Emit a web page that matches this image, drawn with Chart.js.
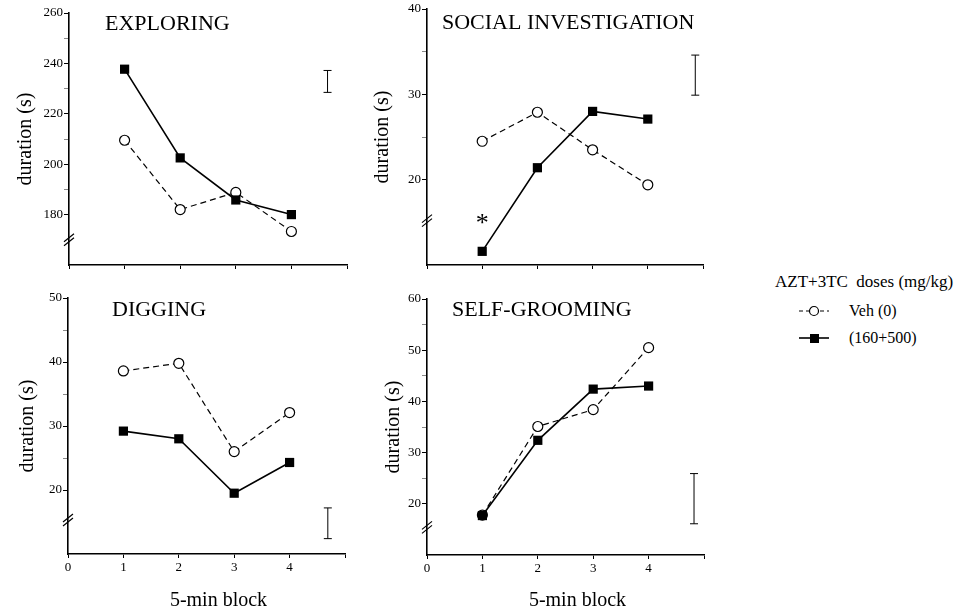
<!DOCTYPE html>
<html>
<head>
<meta charset="utf-8">
<script src="https://cdn.jsdelivr.net/npm/chart.js@4.4.0/dist/chart.umd.min.js"></script>
<style>
  body { margin: 0; background: #fff; }
  #wrap { position: relative; width: 967px; height: 615px; font-family: "Liberation Serif", serif; color: #000; }
  .panel { position: absolute; }
  #legend { position: absolute; left: 775px; top: 272px; font-size: 17px; white-space: nowrap; }
  .row { position: absolute; left: 24px; height: 20px; line-height: 20px; font-size: 16px; }
  .row svg { position: absolute; left: 0; top: 4px; }
  .row span { position: absolute; left: 50px; }
</style>
</head>
<body>
<div id="wrap">
  <canvas id="c1" class="panel" width="360" height="280" style="left:0;top:0"></canvas>
  <canvas id="c2" class="panel" width="360" height="280" style="left:360px;top:0"></canvas>
  <canvas id="c3" class="panel" width="360" height="335" style="left:0;top:280px"></canvas>
  <canvas id="c4" class="panel" width="360" height="335" style="left:360px;top:280px"></canvas>
  <div id="legend">
    <div>AZT+3TC&nbsp;&nbsp;doses (mg/kg)</div>
    <div class="row" style="top:29px">
      <svg width="30" height="12"><line x1="0" y1="6" x2="30" y2="6" stroke="#000" stroke-width="1.2" stroke-dasharray="4,3"/><circle cx="15" cy="6" r="4.5" fill="#fff" stroke="#000" stroke-width="1.2"/></svg>
      <span>Veh (0)</span>
    </div>
    <div class="row" style="top:56px">
      <svg width="30" height="12"><line x1="0" y1="6" x2="30" y2="6" stroke="#000" stroke-width="1.6"/><rect x="11" y="2" width="9" height="9" fill="#000"/></svg>
      <span>(160+500)</span>
    </div>
  </div>
</div>
<script>
// 5-min blocks
const blocks = [1, 2, 3, 4];
const xTickLabels = ["0", "1", "2", "3", "4"];

// duration (s) per block
const exploringVeh = [209.5, 182, 188.8, 173.3];
const exploringDrug = [237.7, 202.5, 185.8, 180];
const socialVeh = [24.5, 27.9, 23.5, 19.4];
const socialDrug = [11.6, 21.4, 28.0, 27.1];
const diggingVeh = [38.6, 39.8, 26.0, 32.1];
const diggingDrug = [29.2, 28.0, 19.5, 24.3];
const groomingVeh = [17.8, 35.1, 38.4, 50.5];
const groomingDrug = [17.7, 32.4, 42.4, 43.0];

// error bar: [x, low, high]
const exploringError = [4.65, 228.5, 237.2];
const socialError = [4.86, 29.9, 34.6];
const diggingError = [4.69, 12.4, 17.2];
const groomingError = [4.82, 16.1, 25.9];

// labelled y ticks
const exploringTicks = [180, 200, 220, 240, 260];
const socialTicks = [20, 30, 40];
const diggingTicks = [20, 30, 40, 50];
const groomingTicks = [20, 30, 40, 50, 60];

const FONT = "'Liberation Serif', 'Times New Roman', serif";

function pts(ys) {
  return blocks.map((b, i) => ({ x: b, y: ys[i] }));
}

const decor = {
  id: 'decor',
  afterDatasetsDraw(chart, args, o) {
    const { ctx } = chart;
    const xs = chart.scales.x, ys = chart.scales.y;
    ctx.save();
    ctx.fillStyle = '#000';
    ctx.strokeStyle = '#000';

    // panel title
    ctx.font = '22px ' + FONT;
    ctx.textBaseline = 'middle';
    ctx.textAlign = 'left';
    ctx.fillText(o.title, o.titleX, o.titleY);

    // axis break marks
    const bx = chart.chartArea.left, by = ys.getPixelForValue(o.breakAt);
    ctx.lineWidth = 1.2;
    ctx.beginPath();
    for (const d of [-2, 2]) {
      ctx.moveTo(bx - 5, by + d + 4);
      ctx.lineTo(bx + 5, by + d - 4);
    }
    ctx.stroke();

    // error bar
    const ex = xs.getPixelForValue(o.err[0]);
    const e1 = ys.getPixelForValue(o.err[1]), e2 = ys.getPixelForValue(o.err[2]);
    ctx.lineWidth = 1;
    ctx.beginPath();
    ctx.moveTo(ex, e1); ctx.lineTo(ex, e2);
    ctx.moveTo(ex - 4, e1); ctx.lineTo(ex + 4, e1);
    ctx.moveTo(ex - 4, e2); ctx.lineTo(ex + 4, e2);
    ctx.stroke();

    // significance mark
    if (o.star) {
      ctx.font = '26px ' + FONT;
      ctx.textAlign = 'center';
      ctx.textBaseline = 'alphabetic';
      ctx.fillText('*', xs.getPixelForValue(o.star[0]), ys.getPixelForValue(o.star[1]) + 12);
    }

    // x axis title
    if (o.xTitle) {
      ctx.font = '20px ' + FONT;
      ctx.textAlign = 'center';
      ctx.textBaseline = 'middle';
      ctx.fillText('5-min block', (chart.chartArea.left + chart.chartArea.right) / 2 + 12, o.xTitleY);
    }
    ctx.restore();
  }
};

function makePanel(id, cfg) {
  const major = new Set(cfg.ticks);
  const first = cfg.ticks[0];
  return new Chart(document.getElementById(id), {
    type: 'line',
    data: {
      datasets: [
        {
          label: '(160+500)',
          data: pts(cfg.drug),
          borderColor: '#000',
          borderWidth: 1.6,
          pointStyle: 'rect',
          pointRadius: 6.5,
          pointBackgroundColor: '#000',
          pointBorderColor: '#000',
          pointBorderWidth: 0,
          tension: 0,
          order: 0
        },
        {
          label: 'Veh (0)',
          data: pts(cfg.veh),
          borderColor: '#000',
          borderWidth: 1.2,
          borderDash: [6, 4],
          pointStyle: 'circle',
          pointRadius: 5,
          pointBackgroundColor: '#fff',
          pointBorderColor: '#000',
          pointBorderWidth: 1.2,
          tension: 0,
          order: 1
        }
      ]
    },
    options: {
      responsive: false,
      animation: false,
      layout: { padding: { top: cfg.padTop, right: cfg.padRight, left: 0, bottom: 0 } },
      plugins: {
        legend: { display: false },
        tooltip: { enabled: false },
        decor: {
          title: cfg.title, titleX: cfg.titleX, titleY: cfg.titleY,
          breakAt: cfg.breakAt, err: cfg.err, star: cfg.star,
          xTitle: cfg.xLabels, xTitleY: cfg.xTitleY
        }
      },
      scales: {
        x: {
          type: 'linear',
          min: 0, max: 5,
          ticks: {
            stepSize: 1,
            color: '#000',
            font: { family: FONT, size: 13 },
            padding: 2,
            callback: v => (cfg.xLabels && xTickLabels[v] !== undefined) ? xTickLabels[v] : ''
          },
          grid: { drawOnChartArea: false, drawTicks: true, tickLength: 4, tickColor: '#000' },
          border: { display: true, color: '#000', width: 1.6 },
          afterFit: s => { s.height = cfg.xHeight; }
        },
        y: {
          min: cfg.min, max: cfg.max,
          ticks: {
            stepSize: cfg.minor,
            color: '#000',
            font: { family: FONT, size: 13 },
            padding: 1,
            callback: v => major.has(v) ? String(v) : ''
          },
          grid: {
            drawOnChartArea: false, drawTicks: true, tickLength: 5,
            tickColor: c => {
              const v = c.tick ? c.tick.value : 0;
              if (major.has(v)) return '#000';
              return v > first ? '#888' : 'rgba(0,0,0,0)';
            }
          },
          border: { display: true, color: '#000', width: 1.6 },
          title: {
            display: true,
            text: 'duration (s)',
            color: '#000',
            font: { family: FONT, size: 20 },
            padding: { top: cfg.titlePad, bottom: 0 }
          },
          afterFit: s => { s.width = cfg.yWidth; }
        }
      }
    },
    plugins: [decor]
  });
}

makePanel('c1', {
  title: 'EXPLORING', titleX: 105, titleY: 24,
  veh: exploringVeh, drug: exploringDrug, err: exploringError, ticks: exploringTicks,
  min: 160, max: 260, minor: 10, breakAt: 170,
  yWidth: 69, xHeight: 15, padTop: 13, padRight: 13, titlePad: 14, xLabels: false
});
makePanel('c2', {
  title: 'SOCIAL INVESTIGATION', titleX: 82, titleY: 23,
  veh: socialVeh, drug: socialDrug, err: socialError, ticks: socialTicks, star: [1, 15.4],
  min: 10, max: 40, minor: 5, breakAt: 15.2,
  yWidth: 67, xHeight: 15, padTop: 9, padRight: 17, titlePad: 11, xLabels: false
});
makePanel('c3', {
  title: 'DIGGING', titleX: 112, titleY: 30,
  veh: diggingVeh, drug: diggingDrug, err: diggingError, ticks: diggingTicks,
  min: 10, max: 50, minor: 5, breakAt: 15.3,
  yWidth: 68, xHeight: 61, padTop: 18, padRight: 15, titlePad: 16, xLabels: true, xTitleY: 321
});
makePanel('c4', {
  title: 'SELF-GROOMING', titleX: 92, titleY: 30,
  veh: groomingVeh, drug: groomingDrug, err: groomingError, ticks: groomingTicks,
  min: 10, max: 60, minor: 5, breakAt: 15.4,
  yWidth: 67, xHeight: 60, padTop: 19, padRight: 16, titlePad: 22, xLabels: true, xTitleY: 321
});
</script>
</body>
</html>
